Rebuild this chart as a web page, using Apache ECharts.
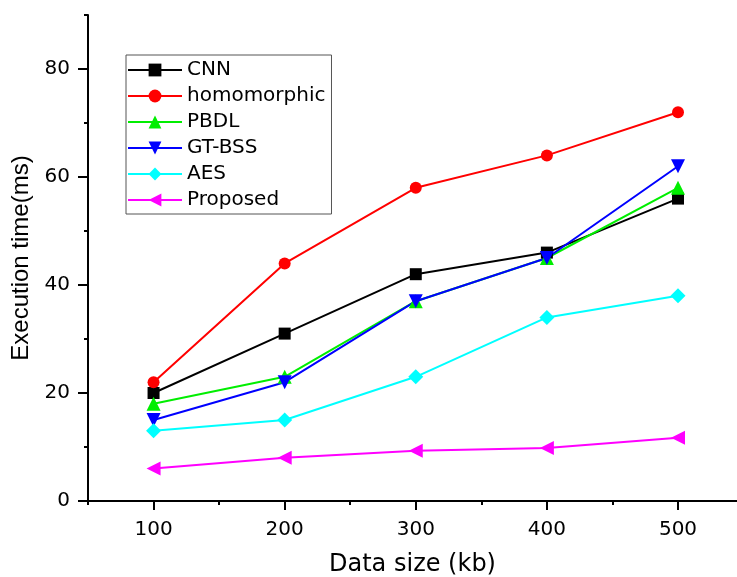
<!DOCTYPE html>
<html>
<head>
<meta charset="utf-8">
<script src="https://cdn.jsdelivr.net/npm/echarts@6/dist/echarts.min.js"></script>
<style>html,body{margin:0;padding:0;background:#fff}#c{width:737px;height:577px}</style>
</head>
<body>
<div id="c"></div>
<script>
const dataSizes = [100, 200, 300, 400, 500];
const cnn = [20, 31, 42, 46, 56];
const homomorphic = [22, 44, 58, 64, 72];
const pbdl = [18, 23, 37, 45, 58];
const gtbss = [15, 22, 37, 45, 62];
const aes = [13, 15, 23, 34, 38];
const proposed = [6, 8, 9.3, 9.8, 11.7];

const xMajorTicks = [100, 200, 300, 400, 500];
const xMinorTicks = [50, 150, 250, 350, 450];
const yMajorTicks = [0, 20, 40, 60, 80];
const yMinorTicks = [10, 30, 50, 70, 90];

const seriesDefs = [
  {name: 'CNN', values: cnn, color: '#000000', symbol: 'rect', size: 12, rotate: 0},
  {name: 'homomorphic', values: homomorphic, color: '#ff0000', symbol: 'circle', size: 12, rotate: 0},
  {name: 'PBDL', values: pbdl, color: '#00ee00', symbol: 'triangle', size: 14, rotate: 0},
  {name: 'GT-BSS', values: gtbss, color: '#0000ff', symbol: 'triangle', size: 14, rotate: 180},
  {name: 'AES', values: aes, color: '#00ffff', symbol: 'diamond', size: 15, rotate: 0},
  {name: 'Proposed', values: proposed, color: '#ff00ff', symbol: 'triangle', size: 14, rotate: 90}
];

const chart = echarts.init(document.getElementById('c'), null, {renderer: 'canvas'});
const axisColor = '#000';
const tickFont = {fontFamily: 'DejaVu Sans', fontSize: 20, color: '#000'};

chart.setOption({
  animation: false,
  backgroundColor: '#fff',
  grid: {left: 88, top: 15, right: 0, bottom: 76, containLabel: false, outerBoundsMode: 'none'},
  legend: {
    orient: 'vertical',
    left: 126, top: 55,
    borderColor: '#555', borderWidth: 1,
    padding: [5, 6, 4, 1],
    itemWidth: 54, itemHeight: 16, itemGap: 6,
    lineStyle: {width: 2},
    textStyle: {fontFamily: 'DejaVu Sans', fontSize: 20, color: '#000', lineHeight: 20},
    data: seriesDefs.map(d => d.name)
  },
  xAxis: [
    {
      type: 'value', min: 50, max: 545,
      name: 'Data size (kb)', nameLocation: 'middle', nameGap: 52,
      nameTextStyle: {fontFamily: 'DejaVu Sans', fontSize: 24, color: '#000'},
      axisLine: {show: true, lineStyle: {color: axisColor, width: 2}},
      axisTick: {show: true, inside: false, length: 9, lineStyle: {color: axisColor, width: 2}, customValues: xMajorTicks},
      axisLabel: Object.assign({margin: 19, customValues: xMajorTicks}, tickFont),
      splitLine: {show: false}
    },
    {
      type: 'value', min: 50, max: 545, position: 'bottom',
      axisLine: {show: false},
      axisTick: {show: true, inside: false, length: 4, lineStyle: {color: axisColor, width: 2}, customValues: xMinorTicks},
      axisLabel: {show: false},
      splitLine: {show: false}
    }
  ],
  yAxis: [
    {
      type: 'value', min: 0, max: 90,
      name: 'Execution time(ms)', nameLocation: 'middle', nameGap: 52,
      nameTextStyle: {fontFamily: 'Liberation Sans', fontSize: 24, color: '#000'},
      axisLine: {show: true, lineStyle: {color: axisColor, width: 2}},
      axisTick: {show: true, inside: false, length: 10, lineStyle: {color: axisColor, width: 2}, customValues: yMajorTicks},
      axisLabel: Object.assign({margin: 18, customValues: yMajorTicks}, tickFont),
      splitLine: {show: false}
    },
    {
      type: 'value', min: 0, max: 90, position: 'left',
      axisLine: {show: false},
      axisTick: {show: true, inside: false, length: 4, lineStyle: {color: axisColor, width: 2}, customValues: yMinorTicks},
      axisLabel: {show: false},
      splitLine: {show: false}
    }
  ],
  series: seriesDefs.map(d => ({
    name: d.name,
    type: 'line',
    xAxisIndex: 0, yAxisIndex: 0,
    data: dataSizes.map((x, i) => [x, d.values[i]]),
    symbol: d.symbol,
    symbolSize: d.size,
    symbolRotate: d.rotate,
    showAllSymbol: true,
    lineStyle: {color: d.color, width: 2},
    itemStyle: {color: d.color, borderWidth: 0},
    emphasis: {disabled: true}
  }))
});
</script>
</body>
</html>
